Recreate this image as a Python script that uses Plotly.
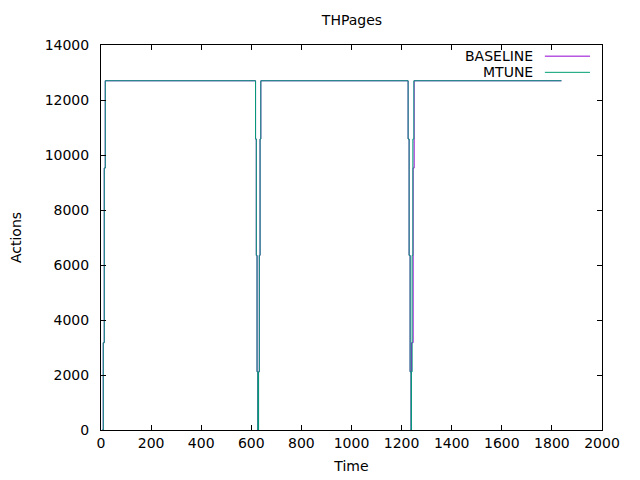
import plotly.graph_objects as go

# Data
baseline_time = [5, 9, 13, 17, 617, 620, 623, 626, 629, 632, 635, 638,
                 1226, 1230, 1234, 1238, 1239, 1240, 1246, 1250, 1838]
baseline_actions = [0, 3175, 9525, 12700, 10583, 6350, 2117, 0, 2117, 6350, 10583, 12700,
                    10583, 6350, 2117, 0, 2117, 3175, 9525, 12700, 12700]

mtune_time = [5, 9, 13, 17, 617, 620, 623, 626, 629, 632, 635, 638,
              1226, 1230, 1234, 1238, 1239, 1242, 1245, 1249, 1838]
mtune_actions = [0, 3175, 9525, 12700, 10583, 6350, 2117, 0, 2117, 6350, 10583, 12700,
                 10583, 6350, 2117, 0, 2117, 6350, 10583, 12700, 12700]

series_names = ["BASELINE", "MTUNE"]
series_colors = ["#9400D3", "#009E73"]

FONT = "DejaVu Sans"

fig = go.Figure()
fig.add_trace(go.Scatter(x=baseline_time, y=baseline_actions, mode="lines",
                         line=dict(color=series_colors[0], width=1, shape="hv"),
                         name=series_names[0], showlegend=False))
fig.add_trace(go.Scatter(x=mtune_time, y=mtune_actions, mode="lines",
                         line=dict(color=series_colors[1], width=1, shape="hv"),
                         name=series_names[1], showlegend=False))

# gnuplot-style key: text on the left, sample line on the right
key_y = [0.971, 0.929]
for name, color, ky in zip(series_names, series_colors, key_y):
    fig.add_annotation(x=0.866, y=ky, xref="paper", yref="paper", text=name,
                       showarrow=False, xanchor="right", yanchor="middle",
                       font=dict(family=FONT, size=14, color="black"))
    fig.add_shape(type="line", xref="paper", yref="paper",
                  x0=0.886, x1=0.976, y0=ky, y1=ky,
                  line=dict(color=color, width=1))

axis_common = dict(showline=True, linecolor="black", linewidth=1, mirror="ticks",
                   ticks="inside", ticklen=5, tickcolor="black", tickwidth=1,
                   showgrid=False, zeroline=False, automargin=False,
                   tickformat="d",
                   tickfont=dict(family=FONT, size=14, color="black"))

# the page body has an 8px margin, so the figure is 632x472 to fill 640x480
fig.update_layout(
    width=632, height=472,
    margin=dict(l=93, r=38, t=37, b=49.5),
    paper_bgcolor="white", plot_bgcolor="white",
    title=dict(text="THPages", x=0.5443, xanchor="center", y=0.9746, yanchor="middle",
               font=dict(family=FONT, size=14, color="black")),
    xaxis=dict(range=[0, 2000], dtick=200, tick0=0,
               title=dict(text="Time", font=dict(family=FONT, size=14, color="black"), standoff=11),
               **axis_common),
    yaxis=dict(range=[0, 14000], dtick=2000, tick0=0, ticklabelstandoff=8,
               title=dict(text="Actions", font=dict(family=FONT, size=14, color="black"), standoff=22),
               **axis_common),
)

fig.write_html("out.html")
